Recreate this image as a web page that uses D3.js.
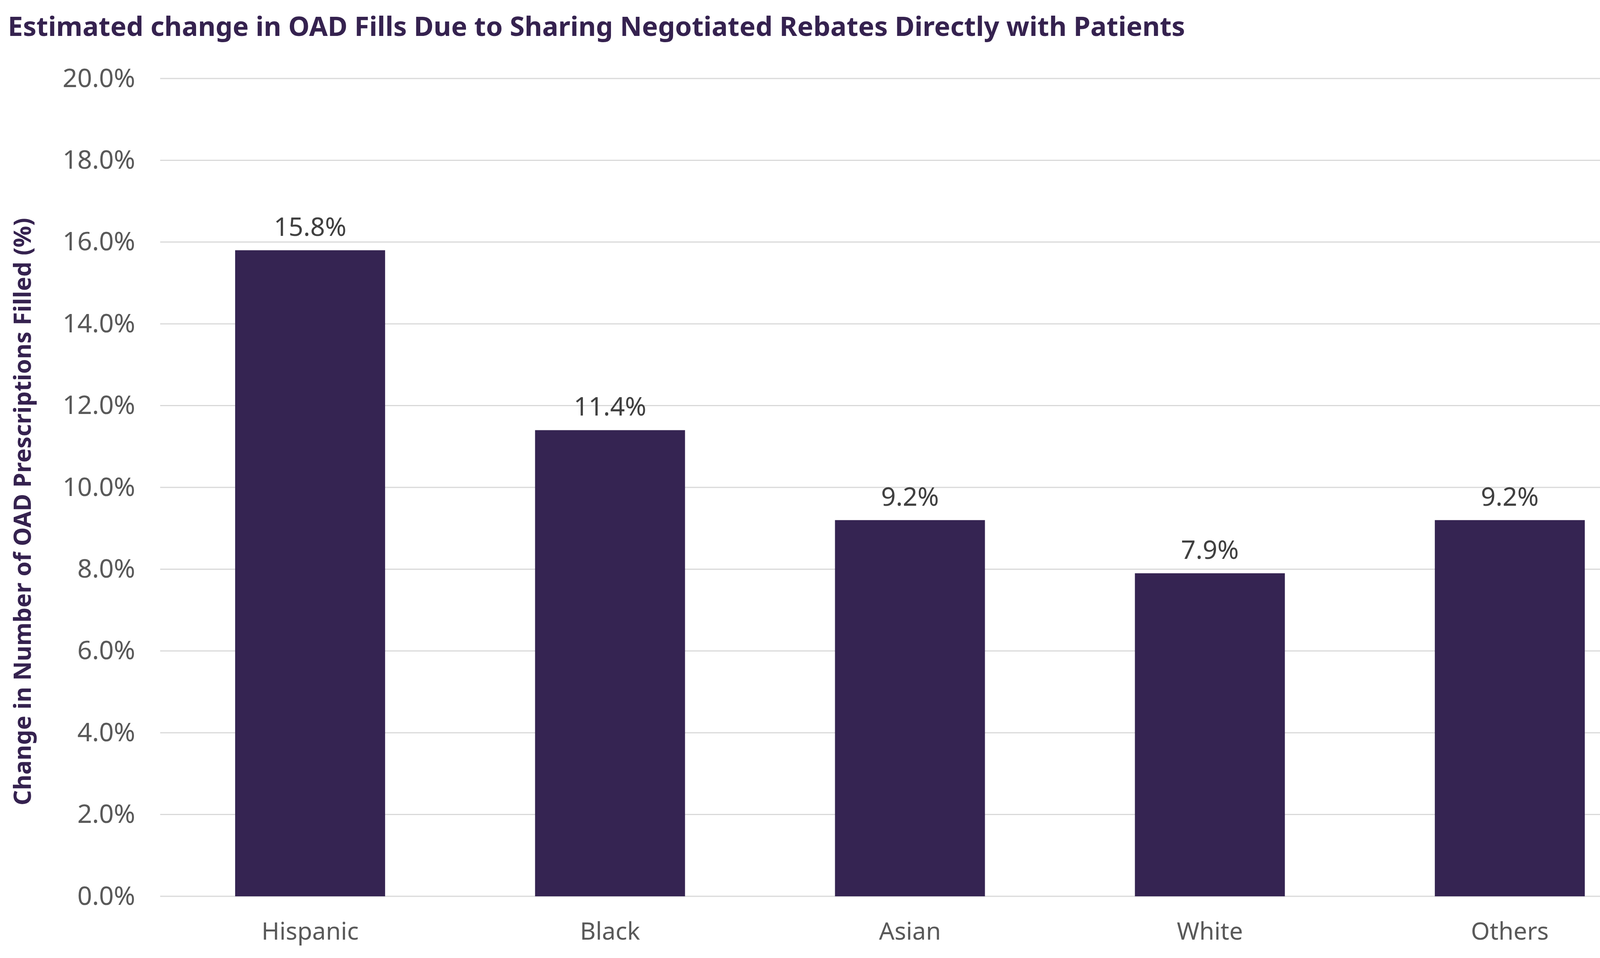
<!DOCTYPE html>
<html>
<head>
<meta charset="utf-8">
<script src="https://cdn.jsdelivr.net/npm/d3@7/dist/d3.min.js"></script>
<style>
  html, body { margin: 0; padding: 0; background: #ffffff; }
  svg { display: block; }
</style>
</head>
<body>
<svg id="chart" width="4300" height="2453"></svg>
<script>
// ---- data ----
const categories = ["Hispanic", "Black", "Asian", "White", "Others"];
const values = [15.8, 11.4, 9.2, 7.9, 9.2];
const yTicks = [0, 2, 4, 6, 8, 10, 12, 14, 16, 18, 20];
const titleText = "Estimated change in OAD Fills Due to Sharing Negotiated Rebates Directly with Patients";
const yAxisTitle = "Change in Number of OAD Prescriptions Filled (%)";

// ---- layout ----
const W = 4300, H = 2453;
const margin = { left: 410, right: 51, top: 201, bottom: 158 };
const font = "'Noto Sans', 'Open Sans', sans-serif";
const barColor = "#352452";

const svg = d3.select("#chart");

const x = d3.scaleBand()
  .domain(categories)
  .range([margin.left, W - margin.right])
  .paddingInner(0.5)
  .paddingOuter(0.25);

const y = d3.scaleLinear()
  .domain([0, 20])
  .range([H - margin.bottom, margin.top]);

// gridlines
svg.append("g")
  .selectAll("line")
  .data(yTicks)
  .join("line")
  .attr("x1", margin.left)
  .attr("x2", W - margin.right)
  .attr("y1", d => y(d))
  .attr("y2", d => y(d))
  .attr("stroke", "#d9d9d9")
  .attr("stroke-width", 3);

// y tick labels
const yAxis = d3.axisLeft(y)
  .tickValues(yTicks)
  .tickFormat(d => d3.format(".1f")(d) + "%")
  .tickSize(0)
  .tickPadding(0);

const yg = svg.append("g")
  .attr("transform", `translate(${margin.left - 64},0)`)
  .call(yAxis);
yg.select(".domain").remove();
yg.selectAll("text")
  .attr("font-family", font)
  .attr("font-size", 66)
  .attr("fill", "#595959");

// x axis labels
const xAxis = d3.axisBottom(x).tickSize(0).tickPadding(0);
const xg = svg.append("g")
  .attr("transform", `translate(0,${H - margin.bottom})`)
  .call(xAxis);
xg.select(".domain").remove();
xg.selectAll("text")
  .attr("dy", null)
  .attr("y", 111)
  .attr("font-family", font)
  .attr("font-size", 62)
  .attr("fill", "#595959");

// bars
svg.append("g")
  .selectAll("rect")
  .data(values)
  .join("rect")
  .attr("x", (d, i) => x(categories[i]))
  .attr("width", x.bandwidth())
  .attr("y", d => y(d))
  .attr("height", d => y(0) - y(d))
  .attr("fill", barColor);

// data labels
svg.append("g")
  .selectAll("text")
  .data(values)
  .join("text")
  .attr("x", (d, i) => x(categories[i]) + x.bandwidth() / 2)
  .attr("y", d => y(d) - 37)
  .attr("text-anchor", "middle")
  .attr("font-family", font)
  .attr("font-size", 66)
  .attr("fill", "#404040")
  .text(d => d3.format(".1f")(d) + "%");

// title
svg.append("text")
  .attr("x", 20)
  .attr("y", 92)
  .attr("font-family", font)
  .attr("font-weight", "bold")
  .attr("font-size", 69)
  .attr("fill", "#35224f")
  .text(titleText);

// y axis title
svg.append("text")
  .attr("transform", "translate(79,1310) rotate(-90)")
  .attr("text-anchor", "middle")
  .attr("font-family", font)
  .attr("font-weight", "bold")
  .attr("font-size", 61)
  .attr("fill", "#35224f")
  .text(yAxisTitle);
</script>
</body>
</html>
